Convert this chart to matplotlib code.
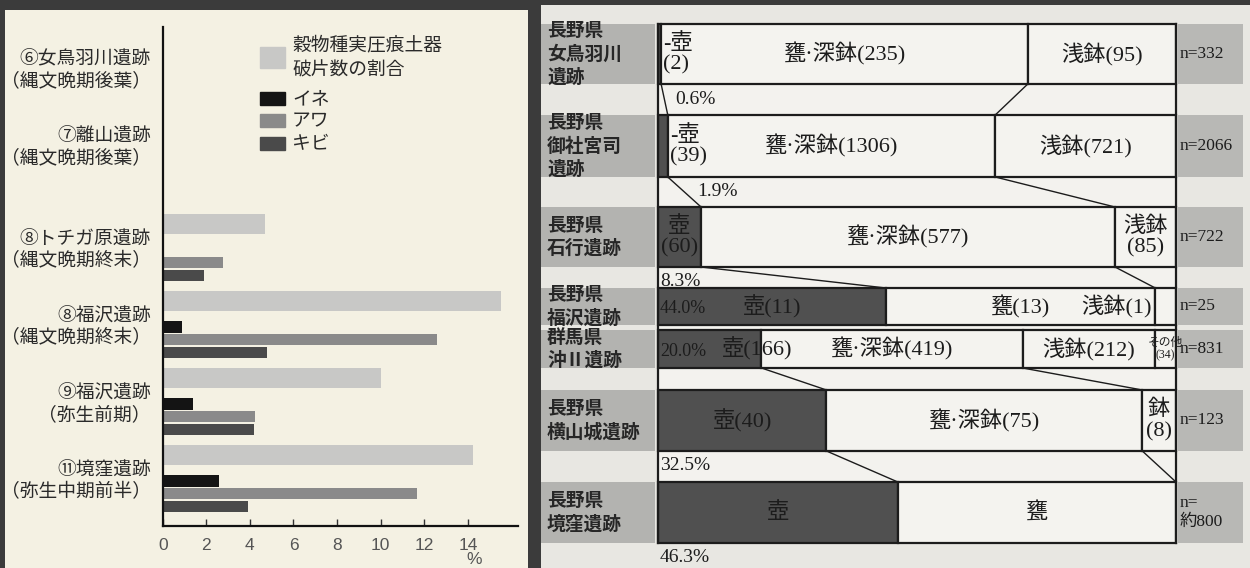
import numpy as np
import matplotlib.pyplot as plt
from matplotlib.patches import Rectangle

plt.rcParams['font.family'] = ['Noto Sans CJK JP', 'DejaVu Sans']

# ---- left chart: share of sherds with grain impressions (%)
sites_left = ["⑥女鳥羽川遺跡\n（縄文晩期後葉）", "⑦離山遺跡\n（縄文晩期後葉）",
              "⑧トチガ原遺跡\n（縄文晩期終末）", "⑧福沢遺跡\n（縄文晩期終末）",
              "⑨福沢遺跡\n（弥生前期）", "⑪境窪遺跡\n（弥生中期前半）"]
sherd_share = [0, 0, 4.7, 15.5, 10.0, 14.25]
ine = [0, 0, 0, 0.9, 1.4, 2.6]
awa = [0, 0, 2.75, 12.6, 4.25, 11.65]
kibi = [0, 0, 1.9, 4.8, 4.2, 3.9]
x_ticks = [0, 2, 4, 6, 8, 10, 12, 14]
legend_labels = ["穀物種実圧痕土器\n破片数の割合", "イネ", "アワ", "キビ"]

# ---- right chart: vessel counts per site
sites_right = ["長野県\n女鳥羽川\n遺跡", "長野県\n御社宮司\n遺跡", "長野県\n石行遺跡",
               "長野県\n福沢遺跡", "群馬県\n沖Ⅱ遺跡", "長野県\n横山城遺跡", "長野県\n境窪遺跡"]
counts = [[2, 235, 95], [39, 1306, 721], [60, 577, 85], [11, 13, 1],
          [166, 419, 212, 34], [40, 75, 8], [46.3, 53.7]]
seg_labels = [["-壺\n(2)", "甕·深鉢(235)", "浅鉢(95)"],
              ["-壺\n(39)", "甕·深鉢(1306)", "浅鉢(721)"],
              ["壺\n(60)", "甕·深鉢(577)", "浅鉢\n(85)"],
              ["壺(11)", "甕(13)", "浅鉢(1)"],
              ["壺(166)", "甕·深鉢(419)", "浅鉢(212)", "その他\n(34)"],
              ["壺(40)", "甕·深鉢(75)", "鉢\n(8)"],
              ["壺", "甕"]]
n_labels = ["n=332", "n=2066", "n=722", "n=25", "n=831", "n=123", "n=\n約800"]

# layout (pixels of the 1250x568 canvas)
W, H = 1250, 568
row_top = [24, 115, 207, 288, 330, 390, 482]
row_bot = [84, 177, 267, 325, 368, 451, 543]
box_l, box_r = 658, 1176
pct_place = ["below", "below", "below", "in", "in", "below", "below"]
pct_x = [675, 697, 660, 660, 660, 660, 660]

fig = plt.figure(figsize=(12.5, 5.68), dpi=100, facecolor="#3b3b3b")

def fbox(x0, y0, x1, y1):
    return [x0 / W, 1 - y1 / H, (x1 - x0) / W, (y1 - y0) / H]

# left panel background
bg = fig.add_axes(fbox(5, 10, 528, 568))
bg.set_facecolor("#f4f1e3")
bg.set_xticks([]); bg.set_yticks([])
for s in bg.spines.values():
    s.set_visible(False)

# ---------------- left bar chart
ax = fig.add_axes(fbox(162.7, 27, 518, 526))
ax.set_facecolor("none")
unit = 77.0
base = np.arange(len(sites_left))
ax.barh(base, sherd_share, height=20 / unit, color="#c8c8c6")
ax.barh(base + 26 / unit, ine, height=11.5 / unit, color="#141414")
ax.barh(base + 38.5 / unit, awa, height=11.5 / unit, color="#8a8a8a")
ax.barh(base + 51.5 / unit, kibi, height=11.5 / unit, color="#4a4a4a")
ax.set_xlim(0, 16.3)
ax.set_ylim((526 - 70) / unit, -(70 - 27) / unit)
ax.set_xticks(x_ticks)
ax.set_yticks([])
ax.tick_params(axis="x", direction="in", length=5, width=1, colors="#333333",
               labelsize=12.5, pad=9)
for lab in ax.get_xticklabels():
    lab.set_fontfamily("Liberation Sans")
    lab.set_color("#555555")
for side in ["top", "right"]:
    ax.spines[side].set_visible(False)
for side in ["left", "bottom"]:
    ax.spines[side].set_linewidth(1.6)
    ax.spines[side].set_color("#111111")
ax.annotate("%", xy=(14.3, 0), xycoords=("data", "axes fraction"),
            xytext=(0, -34), textcoords="offset pixels", ha="center", va="center",
            fontsize=12.5, color="#555555", family="Liberation Sans")

for i, lab in enumerate(sites_left):
    has_bars = max(sherd_share[i], ine[i], awa[i], kibi[i]) > 0
    y = base[i] + (26 / unit if has_bars else 0)
    ax.text(-0.55, y, lab, ha="right", va="center", fontsize=13.5, color="#2a2a2a",
            linespacing=1.05, clip_on=False)

# legend drawn by hand
leg_colors = ["#c8c8c6", "#141414", "#8a8a8a", "#4a4a4a"]
leg_boxes = [(47, 68), (92, 105), (114, 127), (137, 150)]
for lab, col, (y0, y1) in zip(legend_labels, leg_colors, leg_boxes):
    fig.patches.append(Rectangle((260 / W, 1 - y1 / H), 25 / W, (y1 - y0) / H,
                                 transform=fig.transFigure, color=col))
    fig.text(292 / W, 1 - (y0 + y1) / 2 / H, lab, ha="left", va="center",
             fontsize=13.5, color="#2a2a2a", linespacing=1.3)

# ---------------- right chart
rx = fig.add_axes(fbox(541, 5, 1250, 568))
rx.set_facecolor("#e8e7e2")
rx.set_xlim((541 - box_l) / (box_r - box_l), (1250 - box_l) / (box_r - box_l))
rx.set_ylim(568, 5)
rx.set_xticks([]); rx.set_yticks([])
for s in rx.spines.values():
    s.set_visible(False)

def fx(px):
    return (px - box_l) / (box_r - box_l)

serif = ["Liberation Serif", "Noto Sans CJK JP"]
ink = "#1c1c1c"

# frame behind rows
rx.add_patch(Rectangle((0, row_top[0]), 1, row_bot[-1] - row_top[0],
                       facecolor="#f3f2ee", edgecolor="none", zorder=0))
rx.plot([0, 0], [row_top[0], row_bot[-1]], color=ink, lw=1.6, zorder=3)
rx.plot([1, 1], [row_top[0], row_bot[-1]], color=ink, lw=1.6, zorder=3)

cums = []
for i, cnt in enumerate(counts):
    share = np.array(cnt, dtype=float) / sum(cnt)
    left = np.concatenate([[0], np.cumsum(share)[:-1]])
    cums.append(np.cumsum(share))
    yc = (row_top[i] + row_bot[i]) / 2
    hh = row_bot[i] - row_top[i]
    colors = ["#505050"] + ["#f4f3ef"] * (len(cnt) - 1)
    rx.barh(yc, share, left=left, height=hh, color=colors, edgecolor=ink,
            linewidth=1.6, zorder=2)

    # grey bands for site name and n
    rx.add_patch(Rectangle((fx(541), row_top[i]), fx(655) - fx(541), hh,
                           facecolor="#b3b3b0", edgecolor="none", zorder=1))
    rx.add_patch(Rectangle((fx(1178), row_top[i]), fx(1243) - fx(1178), hh,
                           facecolor="#b8b8b5", edgecolor="none", zorder=1))
    rx.text(fx(547), yc, sites_right[i], ha="left", va="center", fontsize=13.5,
            fontweight="bold", color="#262626", linespacing=1.3, zorder=4)
    rx.text(fx(1180), yc, n_labels[i], ha="left", va="center", fontsize=12.5,
            family=serif, color=ink, linespacing=1.2, zorder=4)

    # segment labels
    for k, lab in enumerate(seg_labels[i]):
        cx = left[k] + share[k] / 2
        ha = "center"
        fs = 16
        if k == 0 and i in (0, 1):
            cx, ha = left[k] + share[k] + 0.004, "left"
        if k == 0 and i == 4:
            cx, ha = fx(722), "left"
        if i == 3 and k == 2:
            cx, ha = left[k] - 0.006, "right"
        if lab.startswith("その他"):
            fs = 8.5
        rx.text(cx, yc, lab, ha=ha, va="center", fontsize=fs, family=serif,
                color=ink, linespacing=1.1, zorder=4)

    pct = f"{100 * share[0]:.1f}%"
    if pct_place[i] == "in":
        rx.text(fx(pct_x[i]), yc + 2, pct, ha="left", va="center", fontsize=13,
                family=serif, color=ink, zorder=4)
    else:
        rx.text(fx(pct_x[i]), row_bot[i] + 15, pct, ha="left", va="center",
                fontsize=14, family=serif, color=ink, zorder=4)

# connector lines between consecutive rows
for i in range(len(counts) - 1):
    if row_top[i + 1] - row_bot[i] < 10:
        continue
    for k in range(2):
        rx.plot([cums[i][k], cums[i + 1][k]], [row_bot[i], row_top[i + 1]],
                color=ink, lw=1.0, zorder=3)

fig.savefig("out.png", dpi=100, facecolor=fig.get_facecolor())
